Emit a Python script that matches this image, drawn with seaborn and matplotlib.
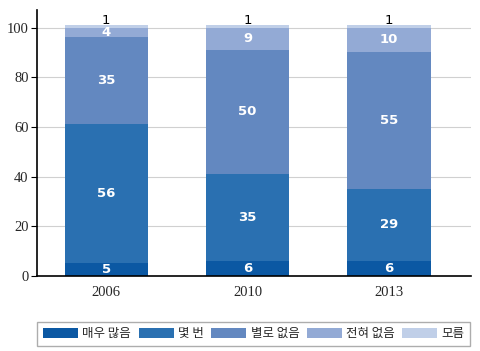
import numpy as np
import pandas as pd
import seaborn as sns
import matplotlib.pyplot as plt
from matplotlib.patches import Patch

years = ['2006', '2010', '2013']
labels = ['매우 많음', '몇 번', '별로 없음', '전혀 없음', '모름']
very_many = [5, 6, 6]
few_times = [56, 35, 29]
not_much = [35, 50, 55]
never = [4, 9, 10]
dont_know = [1, 1, 1]
series = [very_many, few_times, not_much, never, dont_know]
colors = ['#0b58a3', '#2a70b1', '#6388c0', '#93aad5', '#c0cfe8']

sns.set_style("white")
plt.rcParams['font.family'] = ['Noto Sans CJK KR', 'DejaVu Sans']

fig = plt.figure(figsize=(4.8, 3.51), dpi=100)
ax = fig.add_axes([0.077, 0.214, 0.904, 0.757])

cum = np.cumsum(np.array(series), axis=0)
# draw cumulative totals from the top down so each layer covers the one above
for i in range(len(series) - 1, -1, -1):
    df = pd.DataFrame({'year': years, 'value': cum[i]})
    sns.barplot(data=df, x='year', y='value', color=colors[i], saturation=1,
                width=0.59, ax=ax, zorder=2, linewidth=0)

# value labels
for i, vals in enumerate(series):
    for j, v in enumerate(vals):
        mid = cum[i][j] - v / 2
        if i == len(series) - 1:
            ax.text(j, mid + 2.3, str(v), ha='center', va='center',
                    color='black', fontsize=9.5, family='DejaVu Sans')
        else:
            ax.text(j, mid, str(v), ha='center', va='center', color='white',
                    fontsize=9.5, fontweight='bold', family='DejaVu Sans')

ax.set_xlim(-0.49, 2.58)
ax.set_ylim(0, 107)
ax.set_yticks([0, 20, 40, 60, 80, 100])
ax.yaxis.grid(True, color='#d0d0d0', linewidth=0.8, zorder=0)
ax.set_axisbelow(True)
ax.set_xlabel('')
ax.set_ylabel('')
for s in ['top', 'right']:
    ax.spines[s].set_visible(False)
ax.spines['left'].set_color('black')
ax.spines['bottom'].set_color('black')
ax.spines['left'].set_linewidth(1.2)
ax.spines['bottom'].set_linewidth(1.2)
ax.tick_params(axis='y', left=True, length=4, width=0.8, color='black', pad=2)
ax.tick_params(axis='x', bottom=False, pad=4)
for t in ax.get_yticklabels() + ax.get_xticklabels():
    t.set_family('Liberation Serif')
    t.set_fontsize(10.5)

handles = [Patch(facecolor=c, edgecolor='none') for c in colors]
leg = fig.legend(handles, labels, loc='center', ncol=5,
                 bbox_to_anchor=(0.529, 0.049), fontsize=9,
                 handlelength=2.8, handleheight=0.8, handletextpad=0.35,
                 columnspacing=0.6, frameon=True, fancybox=False,
                 borderpad=0.45, borderaxespad=0)
leg.get_frame().set_edgecolor('#999999')
leg.get_frame().set_linewidth(1.0)

fig.savefig('out.png', dpi=100)
